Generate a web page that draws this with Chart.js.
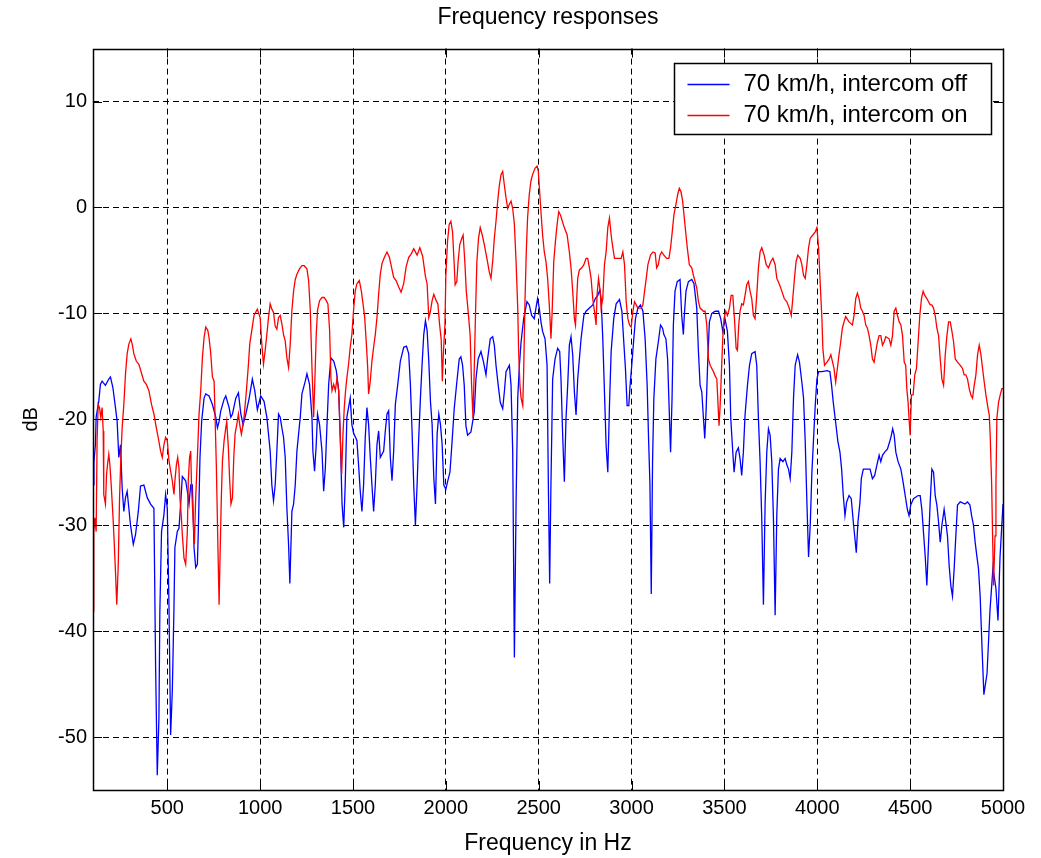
<!DOCTYPE html>
<html>
<head>
<meta charset="utf-8">
<script src="https://cdn.jsdelivr.net/npm/chart.js@4.4.1/dist/chart.umd.min.js"></script>
<style>
  html, body { margin: 0; padding: 0; background: #ffffff; }
  #wrap { width: 1041px; height: 858px; }
</style>
</head>
<body>
<div id="wrap"><canvas id="c" width="1041" height="858"></canvas></div>
<script>
// ---------- data ----------
const chartTitle = 'Frequency responses';
const xTitle = 'Frequency in Hz';
const yTitle = 'dB';
const seriesLabels = ['70 km/h, intercom off', '70 km/h, intercom on'];
const xTickValues = [500, 1000, 1500, 2000, 2500, 3000, 3500, 4000, 4500, 5000];
const yTickValues = [-50, -40, -30, -20, -10, 0, 10];

const offHz = [100,105,113,117,131,140,149,167,185,194,207,221,230,239,248,257,266,275,284,293,302,317,329,344,356,374,392,410,428,437,446,455,460,469,482,491,500,509,518,527,536,541,554,563,572,581,599,608,617,626,635,644,653,662,667,676,685,698,707,725,743,761,770,779,788,806,815,833,842,851,869,883,896,908,923,941,958,971,985,1003,1021,1036,1054,1063,1072,1081,1090,1099,1108,1117,1126,1135,1144,1153,1160,1171,1180,1189,1198,1216,1225,1243,1252,1266,1279,1284,1293,1302,1309,1320,1333,1342,1351,1360,1369,1381,1396,1410,1423,1432,1441,1450,1458,1467,1476,1485,1494,1503,1521,1530,1539,1548,1557,1566,1575,1584,1593,1602,1611,1620,1629,1638,1647,1665,1674,1683,1692,1701,1710,1719,1728,1741,1755,1773,1788,1800,1809,1818,1827,1836,1845,1854,1863,1872,1881,1890,1899,1908,1917,1926,1935,1944,1953,1962,1971,1980,1989,2000,2009,2022,2032,2045,2059,2072,2081,2090,2099,2108,2117,2135,2153,2162,2174,2189,2203,2216,2225,2239,2252,2261,2270,2282,2293,2306,2315,2324,2342,2351,2360,2369,2378,2387,2396,2405,2419,2437,2449,2462,2476,2485,2494,2503,2512,2521,2534,2545,2552,2559,2566,2575,2588,2602,2613,2620,2629,2638,2647,2656,2665,2674,2683,2692,2701,2710,2728,2743,2755,2773,2791,2805,2818,2829,2836,2845,2854,2863,2872,2881,2890,2904,2917,2935,2948,2958,2967,2976,2985,2992,3001,3012,3021,3034,3048,3061,3073,3084,3091,3099,3106,3113,3120,3131,3144,3156,3167,3174,3185,3194,3203,3210,3218,3225,3234,3246,3261,3270,3279,3284,3293,3306,3324,3336,3351,3360,3369,3378,3387,3394,3401,3410,3419,3432,3450,3468,3480,3491,3503,3516,3527,3534,3545,3552,3563,3575,3584,3593,3602,3611,3624,3635,3647,3665,3674,3683,3692,3701,3710,3719,3728,3737,3746,3755,3764,3773,3782,3791,3800,3815,3827,3836,3845,3854,3863,3872,3881,3894,3904,3917,3926,3935,3944,3953,3962,3971,3980,3989,3998,4007,4025,4054,4068,4077,4086,4099,4111,4122,4131,4140,4149,4158,4171,4183,4194,4203,4210,4219,4230,4237,4248,4284,4297,4309,4320,4333,4342,4351,4363,4378,4390,4399,4406,4414,4423,4435,4450,4459,4468,4476,4485,4494,4503,4518,4543,4554,4563,4572,4581,4590,4597,4608,4617,4626,4635,4644,4653,4662,4671,4683,4692,4701,4710,4719,4728,4737,4746,4755,4770,4795,4809,4822,4831,4841,4850,4859,4868,4877,4888,4897,4914,4930,4946,4962,4973,4984,5000];
const offDb = [-26.2,-24,-22.4,-19.8,-18.3,-16.7,-16.4,-16.8,-16.2,-16,-17,-18.9,-20.2,-23.6,-22.4,-26.5,-28.7,-27.4,-26.8,-28.4,-30,-31.8,-30.9,-28.7,-26.3,-26.2,-27.4,-28,-28.4,-43.2,-53.6,-48.2,-38.1,-30.6,-29,-27.1,-28.4,-37.5,-49.8,-45.7,-37.8,-32.1,-30.6,-30.3,-28,-25.4,-25.8,-26.8,-28,-26.2,-26.2,-32.1,-34,-33.7,-30.6,-23.6,-20.2,-18,-17.6,-17.8,-18.6,-19.8,-20.8,-20.2,-19.2,-18.1,-17.8,-18.9,-19.8,-19.5,-18,-17.5,-19.5,-20.5,-19.5,-18,-16.2,-17.3,-19.1,-17.8,-18.3,-19.8,-23,-26.2,-27.7,-26.2,-23,-19.5,-19.8,-20.8,-21.7,-23.6,-28.4,-31.8,-35.5,-28.7,-28,-26.2,-23,-19.8,-17.6,-16.4,-15.7,-16.7,-19.8,-23,-24.9,-22.4,-19.5,-20.5,-23,-26.8,-24.6,-20.5,-16.7,-14.2,-14.5,-15.4,-17.3,-22,-28,-30.2,-26.2,-19.8,-18.9,-18,-20.5,-21.3,-22,-24.3,-26.8,-28.7,-26.2,-21.7,-18.9,-20.5,-23.6,-26.2,-28.7,-26.2,-22.4,-21.1,-23.6,-23,-21.1,-19.5,-19.2,-23.6,-25.8,-23,-18.6,-16.7,-14.5,-13.2,-13.1,-13.8,-16.7,-21.1,-26.2,-30,-26.2,-21.7,-18,-14.8,-12,-10.7,-11.6,-14.5,-18.3,-20.5,-25.5,-28,-21.4,-19.5,-20.5,-22.4,-26.2,-26.6,-25.9,-25,-22.5,-19,-16.5,-14.3,-14.1,-14.9,-16.8,-20.6,-21.5,-21.2,-19.3,-16.2,-14.3,-13.6,-14.6,-15.8,-14.3,-12.4,-12.2,-13,-14.9,-16.8,-18.4,-19,-17.4,-15.5,-14.9,-16.8,-23.1,-42.5,-28,-18,-14.9,-12.7,-10.5,-8.9,-9.2,-10.2,-10.5,-9.5,-8.6,-9.5,-10.8,-11.7,-12.4,-14.9,-26.2,-35.5,-26,-16.2,-14.3,-13.3,-13.6,-16.2,-21.5,-25.9,-19.9,-16.8,-13,-12.2,-13.9,-17.4,-19.6,-16.2,-12.4,-10.2,-9.8,-9.5,-9.2,-8.6,-8.3,-7.8,-8.6,-12.4,-17.4,-22.5,-25,-18.7,-13.6,-10.5,-9.1,-8.7,-9.8,-12.7,-15.2,-18.7,-18.7,-16.8,-14.9,-12.4,-10.5,-9.5,-9.2,-9.8,-12.4,-16.8,-21.5,-26.2,-36.5,-24,-18,-14.3,-12.7,-11.1,-11.4,-12,-12.4,-14.3,-19.3,-23.1,-18,-11.1,-7.9,-7,-6.8,-10.2,-12,-10.2,-7.9,-7,-6.8,-7.2,-9.5,-13.6,-16.8,-17.4,-19.9,-21.8,-19.3,-14.6,-10.8,-10,-9.8,-9.8,-10.5,-11.7,-10.5,-11.7,-14.9,-19.9,-23.1,-25,-23.1,-22.7,-23.7,-25.3,-23.1,-19.6,-16.8,-14.9,-13.8,-13.6,-14.9,-19.9,-24,-29.4,-37.5,-28,-23.1,-20.9,-21.5,-24,-29.4,-38.5,-29,-24.7,-23.7,-24,-23.7,-24.3,-24.7,-25.6,-23.1,-18,-14.9,-13.9,-14.6,-16.5,-18,-22.1,-27.8,-33,-30,-25,-21.8,-18.7,-16.2,-15.5,-15.5,-15.4,-15.5,-16.8,-18.4,-20.3,-22.1,-23.1,-24.7,-27.2,-29.1,-27.8,-27.2,-27.5,-29.7,-31.3,-32.6,-29.7,-27.8,-25.6,-24.7,-24.7,-25.6,-25.3,-24.4,-23.4,-24,-23.4,-23.1,-22.8,-22.1,-21.5,-20.9,-21.5,-23.1,-24,-24.7,-25.6,-26.6,-27.5,-28.5,-29.1,-28.1,-27.5,-27.2,-27.2,-28.5,-30.7,-32.9,-35.7,-32.6,-27.8,-24.7,-25,-27.2,-28.1,-29.7,-31.6,-30,-28.5,-29.7,-31,-33.8,-35.7,-36.7,-34.1,-31,-28.1,-27.8,-28,-27.8,-28.1,-29.1,-30,-31.6,-32.9,-34.1,-36.7,-42,-46,-44,-38,-34,-36,-39,-33,-28];

const onHz = [100,104,110,117,122,128,135,142,149,155,158,167,173,178,185,191,198,207,214,221,228,236,243,250,257,266,275,284,293,304,311,320,333,347,362,374,387,401,415,428,441,451,464,473,482,491,500,509,518,527,536,541,549,556,563,568,576,581,590,599,608,613,620,626,631,638,646,653,662,671,680,689,698,707,718,725,734,743,752,757,764,771,779,784,791,797,806,815,820,829,836,843,851,858,865,874,883,890,899,908,915,926,937,944,955,967,985,1000,1009,1018,1027,1036,1045,1054,1063,1072,1081,1090,1099,1108,1117,1126,1135,1144,1153,1162,1171,1180,1189,1198,1212,1225,1237,1252,1261,1270,1279,1288,1293,1302,1309,1320,1333,1345,1356,1365,1374,1381,1387,1396,1405,1414,1423,1432,1439,1446,1453,1460,1467,1476,1485,1494,1503,1512,1521,1534,1545,1554,1563,1572,1579,1584,1593,1602,1611,1620,1629,1638,1647,1656,1669,1683,1696,1707,1719,1732,1746,1759,1773,1786,1800,1813,1827,1845,1860,1875,1890,1899,1908,1917,1926,1935,1948,1957,1966,1975,1981,1987,1995,2000,2009,2018,2027,2036,2045,2050,2059,2066,2075,2086,2093,2102,2110,2120,2131,2138,2146,2153,2160,2167,2176,2185,2196,2207,2221,2234,2243,2252,2261,2270,2279,2288,2297,2306,2315,2324,2333,2342,2351,2360,2369,2378,2387,2392,2399,2405,2414,2419,2426,2433,2440,2449,2458,2467,2480,2491,2498,2505,2512,2521,2530,2539,2548,2557,2566,2572,2581,2590,2599,2608,2617,2627,2638,2653,2665,2674,2683,2692,2698,2703,2710,2719,2732,2743,2755,2764,2773,2782,2791,2800,2809,2814,2822,2831,2836,2845,2854,2863,2872,2881,2890,2899,2908,2926,2944,2953,2962,2971,2980,2989,2998,3007,3016,3025,3034,3052,3061,3070,3079,3088,3102,3115,3127,3135,3144,3153,3162,3174,3189,3201,3210,3219,3228,3239,3248,3257,3266,3275,3284,3293,3300,3311,3324,3333,3342,3351,3360,3369,3387,3396,3405,3414,3423,3432,3441,3450,3459,3464,3471,3477,3484,3491,3498,3507,3516,3527,3536,3545,3554,3563,3570,3577,3584,3593,3602,3611,3620,3629,3638,3647,3656,3665,3674,3683,3692,3701,3714,3725,3737,3750,3761,3773,3782,3797,3809,3822,3836,3849,3860,3868,3877,3886,3895,3908,3917,3926,3935,3944,3953,3962,3976,3989,3998,4007,4016,4025,4030,4039,4052,4064,4073,4090,4099,4108,4117,4126,4135,4144,4153,4171,4189,4198,4207,4216,4225,4234,4243,4252,4261,4270,4279,4288,4297,4306,4315,4324,4333,4342,4351,4360,4369,4387,4396,4405,4414,4423,4432,4441,4450,4459,4468,4476,4482,4489,4494,4500,4507,4516,4525,4534,4543,4552,4561,4570,4579,4590,4599,4608,4617,4626,4635,4644,4653,4662,4671,4680,4689,4698,4707,4716,4725,4734,4743,4755,4770,4782,4791,4800,4809,4818,4827,4836,4845,4854,4863,4872,4881,4890,4899,4908,4917,4926,4931,4939,4944,4949,4957,4962,4967,4976,4985,4994,5000];
const onDb = [-38.1,-30.6,-29.3,-30.6,-22,-18.6,-18.9,-19.8,-18.9,-21.1,-27.1,-28,-25.2,-24.3,-23.3,-24.3,-26.2,-29,-31.5,-34.4,-37.5,-33.7,-27.4,-23.6,-20.8,-18.6,-15.7,-13.8,-12.9,-12.4,-12.9,-13.8,-14.5,-14.8,-15.7,-16.4,-16.7,-17.3,-18.6,-19.5,-20.8,-21.7,-23,-23.6,-22.4,-21.7,-22,-23.9,-24.9,-25.8,-27.1,-25.8,-24.3,-23.6,-24.6,-27.4,-29.3,-30.9,-33.1,-33.7,-30.6,-25.8,-23.6,-23,-26.5,-29,-31.8,-27.4,-23.6,-19.5,-17.3,-14.2,-12.3,-11.3,-11.6,-12.3,-13.8,-16,-16.4,-19.5,-24.3,-30.6,-37.5,-33.1,-27.4,-23.9,-22,-20.8,-20.2,-22.7,-25.8,-28,-27.4,-23.6,-21.4,-20.5,-19.5,-20.5,-21.4,-20.5,-19.5,-17.3,-14.8,-12.9,-11.6,-10.2,-9.6,-10.4,-12.9,-14.8,-13.5,-12,-10.4,-9.1,-9.6,-9.9,-11.2,-11.5,-10.4,-10.2,-11,-12,-12.6,-14.2,-15.1,-12.9,-9.7,-7.9,-6.8,-6.3,-5.8,-5.5,-5.5,-5.8,-6.9,-9.7,-15.1,-19.8,-17.3,-12,-9.7,-8.8,-8.5,-8.5,-8.8,-9.1,-11.6,-16.1,-17.3,-16.7,-17.3,-16.1,-17.3,-22,-25.2,-21.4,-18.9,-17.3,-16.1,-14.8,-13.2,-12,-9.7,-7.9,-7.2,-6.9,-7.9,-9.1,-10.4,-12.9,-15.1,-17.6,-16.4,-14.5,-13.2,-12,-10.4,-8.2,-6.3,-5.3,-4.7,-4.2,-4.7,-5.6,-6.6,-6.9,-7.5,-8,-7.2,-5.6,-4.7,-4.4,-3.9,-4.5,-3.8,-4.6,-6.5,-7.2,-10.4,-9.8,-8.8,-8.2,-8.8,-9.1,-11,-12.5,-16.4,-13.6,-11.1,-6.4,-3.2,-1.6,-1.3,-2.3,-5.4,-7.3,-7,-5.1,-3.5,-2.9,-2.6,-5.1,-7.9,-9.8,-12.1,-16.5,-19.9,-15.2,-9.8,-5.1,-2.9,-1.9,-2.6,-3.5,-4.8,-6.1,-6.7,-5.1,-2.9,-1.3,0.6,2.1,3.1,3.4,2.1,0.9,-0.1,0.3,0.6,-0.1,-1.6,-5.1,-9.5,-13.6,-16.8,-18,-18.7,-15.5,-8.9,-4.2,-1,1.2,2.5,3.1,3.7,3.9,3.4,1.5,-0.4,-2.6,-4.2,-5.1,-6.7,-9.2,-12.4,-10,-5.1,-3.2,-1.6,-0.4,-0.7,-1.3,-1.9,-2.6,-4.2,-5.7,-7.9,-10.5,-11.1,-9.2,-6.7,-5.9,-5.7,-5.4,-4.8,-4.8,-5.7,-6.7,-8.6,-9.8,-11.1,-8.3,-6.7,-7.9,-9.5,-8.6,-5.4,-4.2,-1.9,-1,-2.6,-3.8,-4.8,-4.8,-4.8,-4.2,-5.4,-8.9,-10.5,-11.1,-11.3,-9.8,-8.9,-9.2,-9.5,-9.5,-9.2,-7.9,-6.7,-5.4,-4.5,-4.2,-4.3,-5.7,-5.4,-4.5,-4.2,-4.5,-4.8,-4.8,-3.8,-2.3,-0.7,0.3,1.2,1.8,1.5,0.6,-1,-2.6,-3.8,-5.4,-5.7,-6.4,-7,-7.6,-8.9,-9.5,-9.8,-9.8,-11.1,-14.3,-14.9,-15.2,-15.5,-15.9,-16.2,-18,-20.6,-18.7,-15.5,-12.4,-10.5,-9.8,-10.2,-9.5,-8.3,-8.3,-10.5,-13.3,-13.5,-11.1,-9.8,-9.1,-9.2,-8.3,-7.3,-7,-7.9,-8.6,-10.2,-10.5,-8.3,-5.7,-4.2,-3.8,-4.5,-5.4,-5.7,-5.1,-4.8,-5.4,-6.7,-7.3,-7.9,-8.6,-8.9,-9.5,-10.2,-8.6,-6.7,-5.1,-4.5,-4.8,-5.4,-6.4,-6.7,-5.4,-3.8,-2.9,-2.6,-2.3,-1.9,-3.8,-7.3,-10.5,-13.3,-14.9,-14.6,-14.3,-13.9,-15.2,-16.5,-15.2,-13.9,-12.7,-11.4,-10.8,-10.3,-10.8,-11.1,-10.2,-8.6,-8.1,-8.6,-9.5,-9.8,-10.2,-11.1,-11.4,-12.1,-13,-14.3,-14.6,-13.6,-12.7,-12.1,-12.1,-13,-12.7,-12.2,-12.4,-13,-12.1,-9.8,-9.5,-10.2,-10.8,-11.1,-12.1,-14.6,-14.9,-17.1,-18.4,-19.9,-21.5,-17.7,-17.7,-15.8,-15.2,-12.7,-10.2,-8.6,-7.9,-8.3,-8.6,-8.9,-9.2,-9.2,-9.5,-10.2,-11.4,-12.1,-14.3,-16.2,-16.8,-13.9,-12.1,-10.8,-10.8,-11.7,-12.7,-14.3,-14.6,-14.9,-15.2,-15.8,-15.8,-16.2,-17.1,-17.7,-18,-16.8,-15.8,-13.9,-13,-13.9,-15.2,-16.5,-17.7,-18.7,-19.6,-21.5,-26.2,-31,-35.7,-31,-26.2,-19.9,-18.4,-17.7,-17.1,-17.1];

// ---------- helpers ----------
const FONT = "'Liberation Sans', Arial, Helvetica, sans-serif";
const toPoints = (xs, ys) => xs.map((x, i) => ({ x: x, y: ys[i] }));

// MATLAB-like frame: box around plot area + inward tick marks on all four sides
const framePlugin = {
  id: 'matlabFrame',
  afterDatasetsDraw(chart) {
    const { ctx, chartArea: a, scales } = chart;
    const tl = 9;
    ctx.save();
    ctx.strokeStyle = '#000';
    ctx.lineWidth = 1;
    ctx.setLineDash([]);
    ctx.beginPath();
    scales.x.ticks.forEach(t => {
      const px = Math.round(scales.x.getPixelForValue(t.value)) + 0.5;
      ctx.moveTo(px, a.bottom); ctx.lineTo(px, a.bottom - tl);
      ctx.moveTo(px, a.top); ctx.lineTo(px, a.top + tl);
    });
    scales.y.ticks.forEach(t => {
      const py = Math.round(scales.y.getPixelForValue(t.value)) + 0.5;
      ctx.moveTo(a.left, py); ctx.lineTo(a.left + tl, py);
      ctx.moveTo(a.right, py); ctx.lineTo(a.right - tl, py);
    });
    ctx.stroke();
    ctx.lineWidth = 1.5;
    ctx.strokeRect(Math.round(a.left) + 0.5, Math.round(a.top) + 0.5,
                   Math.round(a.right - a.left), Math.round(a.bottom - a.top));
    ctx.restore();
  }
};

// Boxed legend inside the plot area, top-right
const boxLegendPlugin = {
  id: 'boxLegend',
  afterDraw(chart) {
    const { ctx, chartArea: a } = chart;
    const w = 317, h = 71;
    const x0 = Math.round(a.right - 12 - w) + 0.5;
    const y0 = Math.round(a.top + 14) + 0.5;
    ctx.save();
    ctx.fillStyle = '#fff';
    ctx.fillRect(x0, y0, w, h);
    ctx.strokeStyle = '#000';
    ctx.lineWidth = 1.5;
    ctx.strokeRect(x0, y0, w, h);
    ctx.font = '24px ' + FONT;
    ctx.textBaseline = 'middle';
    ctx.textAlign = 'left';
    chart.data.datasets.forEach((ds, i) => {
      const cy = y0 + 20 + i * 31;
      ctx.strokeStyle = ds.borderColor;
      ctx.lineWidth = 1.5;
      ctx.beginPath();
      ctx.moveTo(x0 + 13, Math.round(cy) + 0.5);
      ctx.lineTo(x0 + 55, Math.round(cy) + 0.5);
      ctx.stroke();
      ctx.fillStyle = '#000';
      ctx.fillText(ds.label, x0 + 69, cy + 1);
    });
    ctx.restore();
  }
};

new Chart(document.getElementById('c'), {
  type: 'line',
  data: {
    datasets: [
      { label: seriesLabels[0], data: toPoints(offHz, offDb), borderColor: '#0000ff',
        borderWidth: 1.3, pointRadius: 0, tension: 0, fill: false, order: 1 },
      { label: seriesLabels[1], data: toPoints(onHz, onDb), borderColor: '#ff0000',
        borderWidth: 1.3, pointRadius: 0, tension: 0, fill: false, order: 0 }
    ]
  },
  options: {
    responsive: false,
    animation: false,
    devicePixelRatio: 1,
    layout: { padding: { left: 0, right: 38, top: 0, bottom: 0 } },
    plugins: {
      legend: { display: false },
      tooltip: { enabled: false },
      title: {
        display: true, text: chartTitle, color: '#000', fullSize: false,
        font: { family: FONT, size: 23, weight: 'normal', lineHeight: 1.2 },
        padding: { top: 4, bottom: 17 }
      }
    },
    scales: {
      x: {
        type: 'linear', min: 100, max: 5000,
        afterBuildTicks: s => { s.ticks = xTickValues.map(v => ({ value: v })); },
        afterFit: s => { s.height = 68; },
        ticks: { color: '#000', font: { family: FONT, size: 20 }, padding: 6,
                 maxRotation: 0, autoSkip: false, callback: v => String(v) },
        grid: { color: '#000', lineWidth: 1, drawTicks: false },
        border: { display: false, dash: [6, 4] },
        title: { display: true, text: xTitle, color: '#000',
                 font: { family: FONT, size: 23, lineHeight: 1.2 }, padding: { top: 0, bottom: 1 } }
      },
      y: {
        type: 'linear', min: -55, max: 15,
        afterBuildTicks: s => { s.ticks = yTickValues.map(v => ({ value: v })); },
        afterFit: s => { s.width = 93; },
        ticks: { color: '#000', font: { family: FONT, size: 20 }, padding: 6,
                 autoSkip: false, callback: v => String(v) },
        grid: { color: '#000', lineWidth: 1, drawTicks: false },
        border: { display: false, dash: [6, 4] },
        title: { display: true, text: yTitle, color: '#000',
                 font: { family: FONT, size: 20, lineHeight: 1.2 }, padding: { top: 19, bottom: 0 } }
      }
    }
  },
  plugins: [framePlugin, boxLegendPlugin]
});
</script>
</body>
</html>
